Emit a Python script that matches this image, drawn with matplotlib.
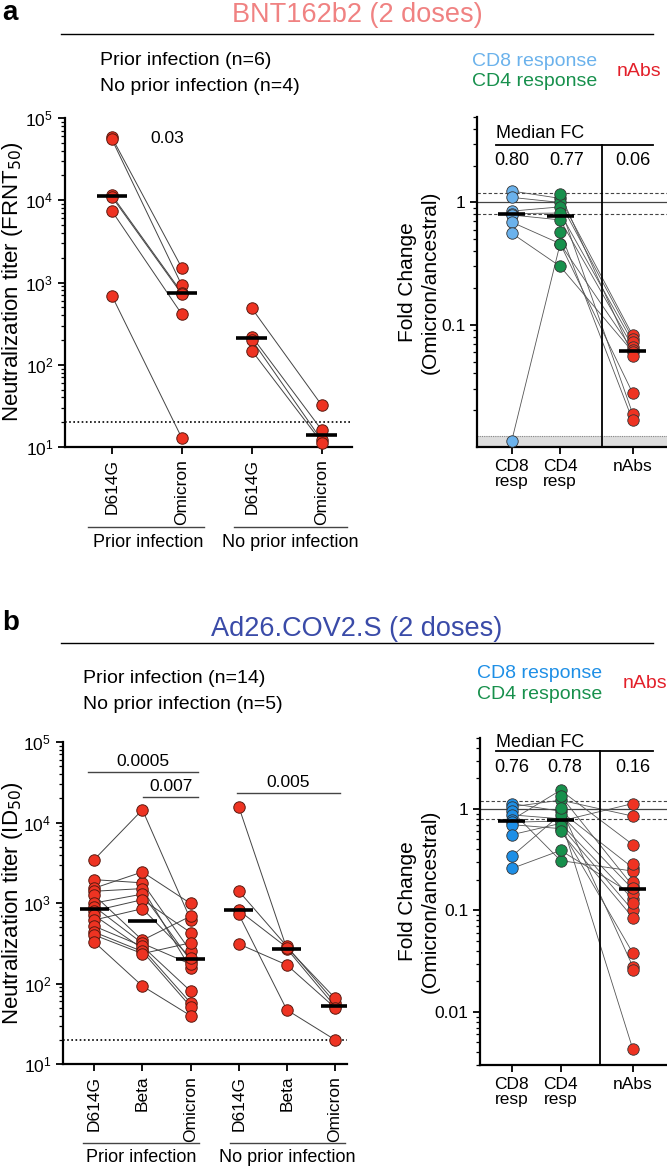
import numpy as np
import matplotlib.pyplot as plt
from matplotlib.lines import Line2D
from matplotlib.ticker import LogLocator, NullFormatter, FixedLocator, FixedFormatter

plt.rcParams['font.family'] = ['Liberation Sans', 'DejaVu Sans']

W, H = 667, 1167

# ---- panel a : BNT162b2, neutralization titers (FRNT50)
a_prior_d614g = [58000, 55000, 11500, 11000, 7400, 690]
a_prior_omicron = [1500, 920, 750, 720, 410, 12.8]
a_none_d614g = [484, 220, 200, 148]
a_none_omicron = [32, 16, 12, 11.3]

# ---- panel a : fold change omicron/ancestral (per participant)
nan = np.nan
a_cd8 = [1.24, 1.10, 0.85, 0.81, 0.79, 0.69, 0.56, 0.0113, nan, nan]
a_cd4 = [1.08, 1.00, 0.92, 0.82, 0.72, 0.46, 0.30, 0.46, 1.17, 0.575]
a_nabs = [0.082, 0.077, 0.0187, 0.072, 0.066, 0.062, 0.060, 0.0276, 0.056, 0.0165]

# ---- panel b : Ad26.COV2.S, neutralization titers (ID50)
b_prior_d614g = [3470, 1950, 1530, 1400, 1250, 1000, 900, 800, 700, 615, 515, 435, 400, 327]
b_prior_beta = [14400, 1780, 2430, 1510, 345, 1290, 315, 1100, 272, 850, 290, 250, 235, 93]
b_prior_omicron = [623, 252, 986, 154, 686, 192, 174, 430, 57.5, 210, 80.5, 51.6, 320, 39.8]
b_none_d614g = [15800, 1410, 810, 725, 310]
b_none_beta = [270, 290, 280, 47, 170]
b_none_omicron = [52, 58, 66, 20, 50]

# ---- panel b : fold change omicron/ancestral
b_cd8 = [1.13, 1.05, 0.95, 0.874, 0.78, 0.74, 0.70, 0.557, 0.342, 0.259,
         nan, nan, nan, nan, nan, nan, nan, nan, nan]
b_cd4 = [0.95, 1.22, 0.31, 0.80, 1.53, 0.76, 0.64, 0.72, 0.88, 0.39,
         1.35, 1.03, 0.68, 0.60, nan, nan, nan, nan, nan]
b_nabs = [0.263, 0.85, 0.244, 0.0043, 0.445, 1.13, 0.038, 0.129, 0.162, 0.144,
          0.174, 0.028, 0.10, 0.085, 0.288, 0.119, 0.19, 0.165, 0.026]

RED = '#EE3322'
RED_EDGE = '#5a1a10'
GREEN = '#17904C'
BLUE_A = '#6BB2EC'
BLUE_B = '#1E8FE6'


def rect(x0, y0, x1, y1):
    return [x0 / W, 1 - y1 / H, (x1 - x0) / W, (y1 - y0) / H]


def ftext(x, y, s, **kw):
    fig.text(x / W, 1 - y / H, s, **kw)


def fline(x0, x1, y0, y1, **kw):
    fig.add_artist(Line2D([x0 / W, x1 / W], [1 - y0 / H, 1 - y1 / H], **kw))


def style_axes(ax):
    for s in ['top', 'right']:
        ax.spines[s].set_visible(False)
    for s in ['left', 'bottom']:
        ax.spines[s].set_linewidth(1.6)
    ax.tick_params(which='major', direction='out', length=5, width=1.3, labelsize=12.5)
    ax.tick_params(which='minor', direction='out', length=3, width=0.9)


def titer_panel(ax, groups, starts, half):
    for g, st in zip(groups, starts):
        vals = np.array(g, dtype=float)
        pos = st + np.arange(len(vals))
        for row in vals.T:
            ax.plot(pos, row, color='#444444', lw=0.7, zorder=1)
        for p, v in zip(pos, vals):
            ax.scatter(np.full(len(v), p), v, s=68, color=RED, edgecolor=RED_EDGE,
                       linewidth=0.7, zorder=3, clip_on=False)
            med = np.median(v)
            ax.plot([p - half, p + half], [med, med], color='k', lw=2.6, zorder=4,
                     solid_capstyle='butt')
    ax.set_yscale('log')
    ax.set_ylim(10, 1e5)
    ax.yaxis.set_major_locator(LogLocator(base=10, numticks=10))
    ax.yaxis.set_minor_locator(LogLocator(base=10, subs=np.arange(2, 10), numticks=10))
    ax.yaxis.set_minor_formatter(NullFormatter())
    ax.axhline(20, color='k', lw=1.2, ls=(0, (1, 1.5)), zorder=0)
    style_axes(ax)


def fc_panel(ax, cd8, cd4, nabs, blue, xs, half):
    data = np.array([cd8, cd4, nabs], dtype=float)
    xs = np.array(xs)
    for row in data.T:
        ok = ~np.isnan(row)
        ax.plot(xs[ok], row[ok], color='#555555', lw=0.6, zorder=1)
    for x, v, c in zip(xs, data, [blue, GREEN, RED]):
        v = v[~np.isnan(v)]
        ax.scatter(np.full(len(v), x), v, s=68, color=c, edgecolor='#333333',
                   linewidth=0.6, zorder=3, clip_on=False)
        med = np.median(v)
        ax.plot([x - half, x + half], [med, med], color='k', lw=2.6, zorder=4,
                solid_capstyle='butt')
    ax.set_yscale('log')
    ax.axhline(1, color='#444444', lw=0.9, zorder=0)
    ax.axhline(1.2, color='#444444', lw=0.8, ls=(0, (3, 2)), zorder=0)
    ax.axhline(0.8, color='#444444', lw=0.8, ls=(0, (3, 2)), zorder=0)
    ax.yaxis.set_minor_locator(LogLocator(base=10, subs=np.arange(2, 10), numticks=10))
    ax.yaxis.set_minor_formatter(NullFormatter())
    ax.set_xticks(xs)
    ax.set_xticklabels(['CD8\nresp', 'CD4\nresp', 'nAbs'], fontsize=13, linespacing=1.0)
    style_axes(ax)
    return [np.median(v[~np.isnan(v)]) for v in data]


fig = plt.figure(figsize=(W / 100, H / 100), dpi=100)

# ================= panel a =================
ftext(2, 20, 'a', fontsize=20, fontweight='bold')
ftext(357, 22, 'BNT162b2 (2 doses)', fontsize=19.5, color='#F08282', ha='center')
fline(61, 653, 34, 34, color='k', lw=1.0)
ftext(100, 65, 'Prior infection (n=6)', fontsize=14)
ftext(100, 91, 'No prior infection (n=4)', fontsize=14)
ftext(472, 66, 'CD8 response', fontsize=14, color=BLUE_A)
ftext(472, 86, 'CD4 response', fontsize=14, color=GREEN)
ftext(617, 76, 'nAbs', fontsize=14, color='#E3202A')

axL = fig.add_axes(rect(65, 118, 352, 447))
titer_panel(axL, [[a_prior_d614g, a_prior_omicron], [a_none_d614g, a_none_omicron]],
            [0, 2], 0.22)
axL.set_xlim(-0.67, 3.43)
axL.set_xticks([0, 1, 2, 3])
axL.set_xticklabels(['D614G', 'Omicron', 'D614G', 'Omicron'], rotation=90, fontsize=12.5)
axL.text(0.55, 5.6e4, '0.03', fontsize=12.5, va='center')
ftext(13, 282, 'Neutralization titer (FRNT$_{50}$)', fontsize=16, rotation=90,
      ha='center', va='center')
fline(88, 204, 527, 527, color='#444444', lw=1.0)
fline(234, 347, 527, 527, color='#444444', lw=1.0)
ftext(148, 547, 'Prior infection', fontsize=13, ha='center')
ftext(290, 547, 'No prior infection', fontsize=13, ha='center')

axR = fig.add_axes(rect(477, 117, 667, 447))
meds = fc_panel(axR, a_cd8, a_cd4, a_nabs, BLUE_A, [0, 1, 2.5], 0.28)
axR.set_xlim(-0.72, 3.21)
axR.set_ylim(0.01, 5)
axR.yaxis.set_major_locator(FixedLocator([0.1, 1]))
axR.yaxis.set_major_formatter(FixedFormatter(['0.1', '1']))
axR.axhspan(0.01, 0.0123, color='#dddddd', zorder=0, lw=0)
axR.axhline(0.0123, color='#888888', lw=0.8, ls=(0, (1, 1)), zorder=0)
axR.axvline(1.87, ymax=0.915, color='k', lw=1.3)
ftext(419, 282, 'Fold Change\n(Omicron/ancestral)', fontsize=15, rotation=90,
      ha='center', va='center', linespacing=1.25)
fline(496, 653, 145, 145, color='k', lw=1.3)
ftext(496, 138, 'Median FC', fontsize=13)
for xp, m in zip([512, 567, 633], meds):
    ftext(xp, 165, f'{m:.2f}', fontsize=13, ha='center')

# ================= panel b =================
ftext(2, 630, 'b', fontsize=20, fontweight='bold')
ftext(357, 636, 'Ad26.COV2.S (2 doses)', fontsize=19.5, color='#3A4BA8', ha='center')
fline(61, 653, 643, 643, color='k', lw=1.0)
ftext(83, 683, 'Prior infection (n=14)', fontsize=14)
ftext(83, 709, 'No prior infection (n=5)', fontsize=14)
ftext(477, 678, 'CD8 response', fontsize=14, color=BLUE_B)
ftext(477, 699, 'CD4 response', fontsize=14, color=GREEN)
ftext(623, 688, 'nAbs', fontsize=14, color='#E3202A')

bxL = fig.add_axes(rect(63, 742, 347, 1064))
titer_panel(bxL, [[b_prior_d614g, b_prior_beta, b_prior_omicron],
                  [b_none_d614g, b_none_beta, b_none_omicron]], [0, 3], 0.3)
bxL.set_xlim(-0.65, 5.25)
bxL.set_xticks(range(6))
bxL.set_xticklabels(['D614G', 'Beta', 'Omicron'] * 2, rotation=90, fontsize=12.5)
for x0, x1, yv, lab in [(-0.13, 2.16, 4.3e4, '0.0005'), (1.01, 2.16, 2.1e4, '0.007'),
                        (2.97, 5.1, 2.35e4, '0.005')]:
    bxL.plot([x0, x1], [yv, yv], color='#444444', lw=1.0)
    bxL.text((x0 + x1) / 2, yv * 1.08, lab, ha='center', va='bottom', fontsize=12.5)
ftext(13, 903, 'Neutralization titer (ID$_{50}$)', fontsize=16, rotation=90,
      ha='center', va='center')
fline(83, 199, 1143, 1143, color='#444444', lw=1.0)
fline(230, 345, 1143, 1143, color='#444444', lw=1.0)
ftext(141, 1162, 'Prior infection', fontsize=13, ha='center')
ftext(287, 1162, 'No prior infection', fontsize=13, ha='center')

bxR = fig.add_axes(rect(480, 738, 667, 1065))
meds = fc_panel(bxR, b_cd8, b_cd4, b_nabs, BLUE_B, [0, 1, 2.48], 0.28)
bxR.set_xlim(-0.65, 3.18)
bxR.set_ylim(0.003, 5)
bxR.yaxis.set_major_locator(FixedLocator([0.01, 0.1, 1]))
bxR.yaxis.set_major_formatter(FixedFormatter(['0.01', '0.1', '1']))
bxR.axvline(1.81, ymax=0.96, color='k', lw=1.3)
ftext(419, 901, 'Fold Change\n(Omicron/ancestral)', fontsize=15, rotation=90,
      ha='center', va='center', linespacing=1.25)
fline(496, 653, 751, 751, color='k', lw=1.3)
ftext(496, 747, 'Median FC', fontsize=13)
for xp, m in zip([512, 565, 633], meds):
    ftext(xp, 772, f'{m:.2f}', fontsize=13, ha='center')

fig.savefig('out.png', dpi=100)
